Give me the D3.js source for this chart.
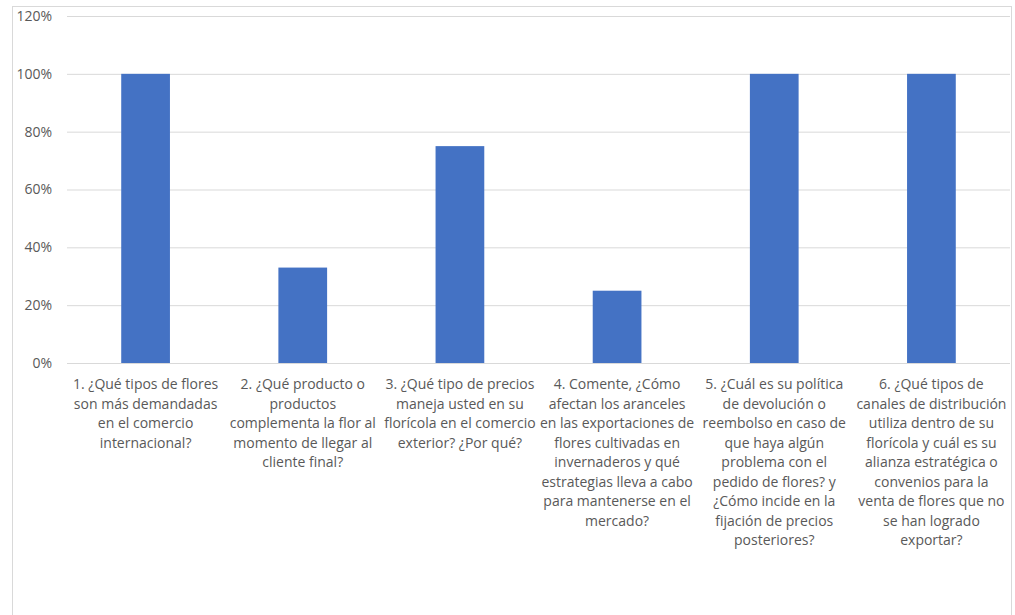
<!DOCTYPE html>
<html><head><meta charset="utf-8">
<script src="https://cdn.jsdelivr.net/npm/d3@7"></script>
<style>body{margin:0;background:#fff}svg{display:block}</style>
</head><body>
<svg id="c" width="1015" height="615"></svg>
<script>
const categories = [
  "1. ¿Qué tipos de flores\nson más demandadas\nen el comercio\ninternacional?",
  "2. ¿Qué producto o\nproductos\ncomplementa la flor al\nmomento de llegar al\ncliente final?",
  "3. ¿Qué tipo de precios\nmaneja usted en su\nflorícola en el comercio\nexterior? ¿Por qué?",
  "4. Comente, ¿Cómo\nafectan los aranceles\nen las exportaciones de\nflores cultivadas en\ninvernaderos y qué\nestrategias lleva a cabo\npara mantenerse en el\nmercado?",
  "5. ¿Cuál es su política\nde devolución o\nreembolso en caso de\nque haya algún\nproblema con el\npedido de flores? y\n¿Cómo incide en la\nfijación de precios\nposteriores?",
  "6. ¿Qué tipos de\ncanales de distribución\nutiliza dentro de su\nflorícola y cuál es su\nalianza estratégica o\nconvenios para la\nventa de flores que no\nse han logrado\nexportar?"
];
const values = [1.00, 0.33, 0.75, 0.25, 1.00, 1.00];
const yTicks = [0, 0.2, 0.4, 0.6, 0.8, 1.0, 1.2];

const svg = d3.select("#c");
const font = "'Open Sans', 'Liberation Sans', sans-serif";
const textColor = "#595959";

svg.append("rect").attr("x", 12.5).attr("y", 6.5).attr("width", 999).attr("height", 640)
  .attr("fill", "#fff").attr("stroke", "#d9d9d9");

const x = d3.scaleBand().domain(d3.range(categories.length)).range([67, 1010]).paddingInner(0.69).paddingOuter(0.345);
const y = d3.scaleLinear().domain([0, 1.2]).range([363, 16]);

const yAxis = d3.axisLeft(y).tickValues(yTicks).tickFormat(d3.format(".0%")).tickSize(-(1010 - 67)).tickPadding(15);
const gy = svg.append("g").attr("transform", "translate(67,0)").call(yAxis);
gy.select(".domain").remove();
gy.selectAll(".tick line").attr("stroke", "#d9d9d9").attr("stroke-width", 1);
gy.selectAll(".tick text").attr("fill", textColor).attr("font-family", font).attr("font-size", 14);

svg.append("g").selectAll("rect").data(values).join("rect")
  .attr("x", (d, i) => x(i)).attr("width", x.bandwidth())
  .attr("y", d => y(d)).attr("height", d => y(0) - y(d))
  .attr("fill", "#4472c4");

const xAxis = d3.axisBottom(x).tickSize(0).tickFormat(() => "");
const gx = svg.append("g").attr("transform", "translate(0,363)").call(xAxis);
gx.select(".domain").remove();
gx.selectAll(".tick").each(function(d) {
  const t = d3.select(this).append("text")
    .attr("fill", textColor).attr("font-family", font).attr("font-size", 14)
    .attr("text-anchor", "middle");
  categories[d].split("\n").forEach((line, k) => {
    t.append("tspan").attr("x", 0).attr("y", 26 + k * 19.5).text(line);
  });
});
</script>
</body></html>
